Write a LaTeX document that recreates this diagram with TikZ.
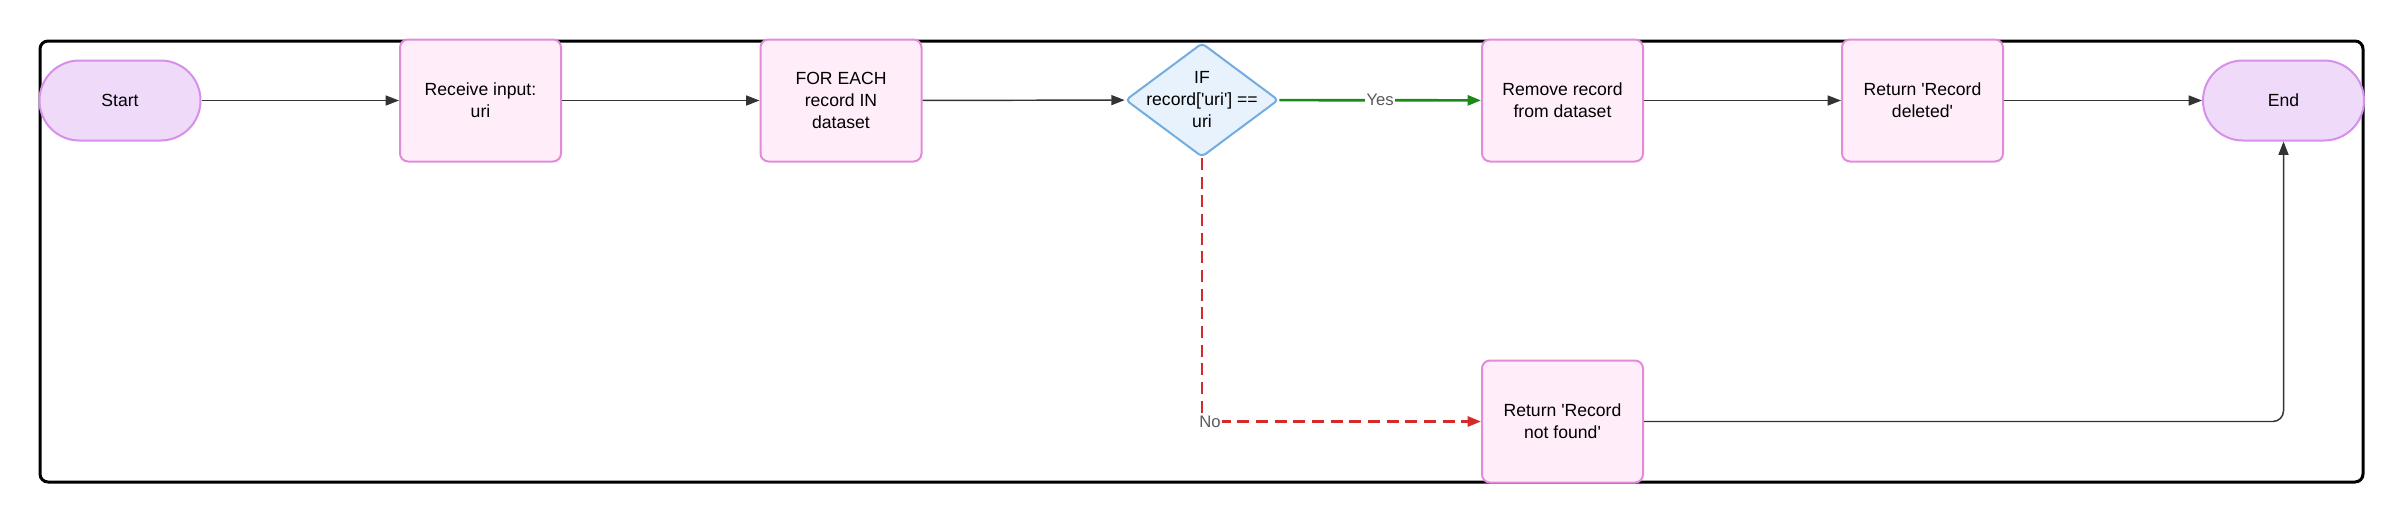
\documentclass[tikz,border=0pt]{standalone}
\usepackage{fontspec}
\setmainfont{Liberation Sans}[Ligatures=TeXOff]
\usepackage{color}
\usepackage{tikz}
\usetikzlibrary{shapes.geometric,arrows.meta}
\definecolor{boxfill}{HTML}{FFEEFA}
\definecolor{boxline}{HTML}{E38BDB}
\definecolor{termfill}{HTML}{F0DAFA}
\definecolor{termline}{HTML}{D690EA}
\definecolor{decfill}{HTML}{E8F2FC}
\definecolor{decline}{HTML}{72ACE0}
\definecolor{yesline}{HTML}{1B8A1B}
\definecolor{noline}{HTML}{D42A2A}
\definecolor{lblgray}{HTML}{5A5A5A}
\definecolor{connline}{HTML}{333333}

\begin{document}
\begin{tikzpicture}[x=0.75pt,y=-0.75pt,
  txt/.style={font=\fontsize{13.2pt}{16.5pt}\selectfont, align=center},
  proc/.style={txt, draw=boxline, fill=boxfill, line width=1.5pt, rounded corners=6pt, minimum width=120.75pt, minimum height=91.5pt},
  term/.style={txt, draw=termline, fill=termfill, line width=1.5pt, rounded corners=29.9pt, minimum width=120.75pt, minimum height=60pt},
  decision/.style={diamond, draw=decline, fill=decfill, line width=1.5pt, rounded corners=3pt, minimum width=114.75pt, minimum height=85.5pt, inner sep=0pt},
  conn/.style={draw=connline, line width=1.1pt, -{Triangle[length=10pt,width=7.5pt]}},
  lbl/.style={fill=white, text=lblgray, inner sep=1pt, font=\fontsize{12.5pt}{14pt}\selectfont}]
\useasboundingbox (0,0) rectangle (2403,522);
\draw[line width=2.25pt, rounded corners=6pt] (40,41) rectangle (2363,482);

\node[term] (start) at (120,100.5) {Start};
\node[proc] (recv) at (480.5,100.5) {Receive input:\\uri};
\node[proc] (loop) at (841,100.5) {FOR EACH\\record IN\\dataset};
\node[decision] (ifrec) at (1202,100) {};
\node[txt] (ifrectext) at (ifrec) {IF\\record['uri'] ==\\uri};
\node[proc] (remove) at (1562.5,100.5) {Remove record\\from dataset};
\node[proc] (retdel) at (1922.5,100.5) {Return 'Record\\deleted'};
\node[term] (end) at (2283.5,100.5) {End};
\node[proc] (retnf) at (1562.5,421.5) {Return 'Record\\not found'};

\draw[conn] (start) -- (recv);
\draw[conn] (recv) -- (loop);
\draw[conn] (loop) -- (ifrec);
\draw[conn, draw=yesline, line width=2pt] (ifrec) -- node[lbl] (yeslbl) {Yes} (remove);
\draw[conn] (remove) -- (retdel);
\draw[conn] (retdel) -- (end);
\draw[conn, draw=noline, line width=2pt, dash pattern=on 9pt off 5pt] (ifrec.south) |- node[lbl, pos=0.5, xshift=6pt] (nolbl) {No} (retnf);
\draw[conn, rounded corners=8pt] (retnf) -| (end);
\end{tikzpicture}
\end{document}
